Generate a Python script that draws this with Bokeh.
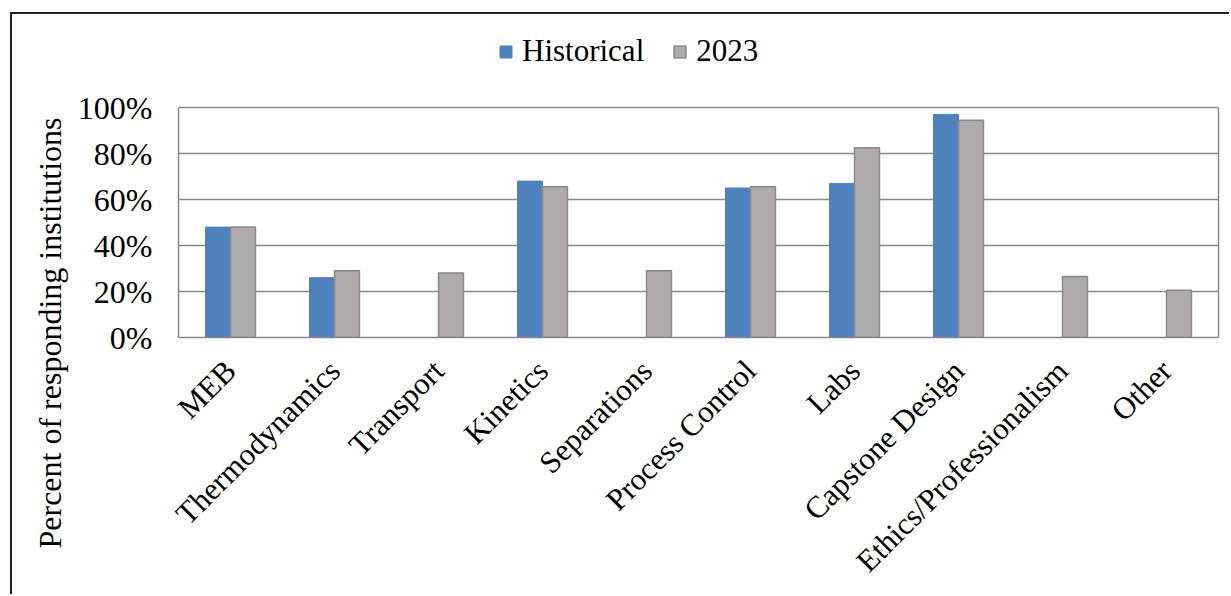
from bokeh.plotting import figure
from bokeh.models import (ColumnDataSource, FactorRange, Range1d, FixedTicker,
                          NumeralTickFormatter, Legend, LegendItem, Title, LinearAxis)
from bokeh.transform import dodge
from bokeh.embed import file_html
from bokeh.resources import INLINE
import math

categories = ["MEB", "Thermodynamics", "Transport", "Kinetics", "Separations",
              "Process Control", "Labs", "Capstone Design",
              "Ethics/Professionalism", "Other"]
historical = [0.48, 0.26, None, 0.68, None, 0.65, 0.67, 0.97, None, None]
y2023 = [0.48, 0.29, 0.28, 0.655, 0.29, 0.655, 0.825, 0.945, 0.265, 0.205]
y_ticks = [0, 0.2, 0.4, 0.6, 0.8, 1.0]

FONT = "Liberation Serif"
BLUE = "#4F81BD"
GRAY = "#AEABAA"
EDGE = "#898989"

hist_src = ColumnDataSource(dict(
    cat=[c for c, v in zip(categories, historical) if v is not None],
    val=[v for v in historical if v is not None]))
new_src = ColumnDataSource(dict(cat=categories, val=y2023))

# frame extends above 100% to hold the legend; 230 px per 100%
FRAME_TOP = 14
y_top = (323 - FRAME_TOP) / 230.0

p = figure(width=1219, height=582, x_range=FactorRange(*categories, range_padding=0),
           y_range=Range1d(0, y_top), output_backend="svg", toolbar_location=None,
           min_border_left=166, min_border_right=13, min_border_top=FRAME_TOP,
           min_border_bottom=259, margin=(12, 0, 0, 10))
p.styles = {"border-left": "2px solid #222222", "border-top": "2px solid #222222"}

r1 = p.vbar(x=dodge("cat", -0.12, range=p.x_range), top="val", width=0.24,
            source=hist_src, fill_color=BLUE, line_color=BLUE, line_width=1)
r2 = p.vbar(x=dodge("cat", 0.12, range=p.x_range), top="val", width=0.24,
            source=new_src, fill_color=GRAY, line_color=EDGE, line_width=1.5)

p.outline_line_color = None
p.xgrid.grid_line_color = None
p.ygrid.ticker = FixedTicker(ticks=y_ticks)
p.ygrid.grid_line_color = EDGE
p.ygrid.grid_line_width = 1.5

p.yaxis.ticker = FixedTicker(ticks=y_ticks)
p.yaxis.bounds = (0, 1)
p.yaxis.formatter = NumeralTickFormatter(format="0%")
p.yaxis.axis_line_color = EDGE
p.yaxis.axis_line_width = 1.5
p.xaxis.axis_line_color = EDGE
p.xaxis.axis_line_width = 1.5
for ax in (p.xaxis, p.yaxis):
    ax.major_tick_line_color = None
    ax.minor_tick_line_color = None
    ax.major_tick_out = 0
    ax.major_tick_in = 0
    ax.major_label_text_font = FONT
    ax.major_label_text_color = "black"
p.yaxis.major_label_text_font_size = "32px"
p.xaxis.major_label_text_font_size = "31px"
p.yaxis.major_label_standoff = 26
p.xaxis.major_label_orientation = math.pi / 4
p.xaxis.major_label_standoff = 28

right = LinearAxis(ticker=FixedTicker(ticks=[]), bounds=(0, 1),
                   axis_line_color=EDGE, axis_line_width=1.5,
                   major_tick_line_color=None, minor_tick_line_color=None,
                   major_tick_out=0, major_tick_in=0, minor_tick_out=0)
p.add_layout(right, "right")

ytitle = Title(text="Percent of responding institutions", align="left",
               offset=-211, text_font=FONT, text_font_size="32px",
               text_font_style="normal", text_color="black", standoff=14)
p.add_layout(ytitle, "left")

legend = Legend(items=[LegendItem(label="Historical", renderers=[r1]),
                       LegendItem(label="2023", renderers=[r2])],
                location=(320, 268), orientation="horizontal",
                glyph_width=15, glyph_height=15, label_standoff=9, spacing=28,
                padding=0, margin=0, border_line_color=None,
                background_fill_alpha=0,
                label_text_font=FONT, label_text_font_size="31px",
                label_text_color="black")
p.add_layout(legend, "center")

open("out.html", "w").write(file_html(p, INLINE))
